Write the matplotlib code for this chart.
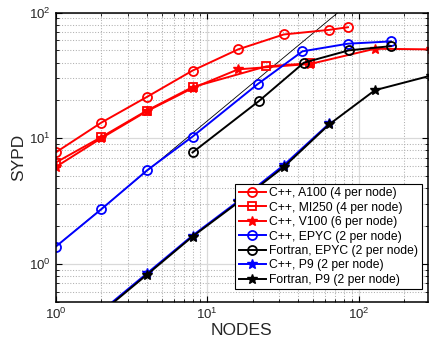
import matplotlib
matplotlib.use('Agg')
import matplotlib.pyplot as plt
from matplotlib.ticker import LogLocator, NullFormatter
import numpy as np

plt.rcParams['font.family'] = ['Liberation Sans', 'DejaVu Sans']

# Dados (nós x SYPD)
nos_a100 = [1, 2, 4, 8, 16, 32, 64, 85]
sypd_a100 = [7.7, 13.3, 21.3, 34.5, 50.9, 66.9, 72.8, 76.4]

nos_mi250 = [1, 2, 4, 8, 24.6, 48]
sypd_mi250 = [6.4, 10.2, 16.6, 25.5, 37.3, 39.5]

nos_v100 = [1, 2, 4, 8, 16, 48, 128, 300]
sypd_v100 = [5.9, 10.0, 16.4, 25.0, 35.3, 39.0, 51.5, 50.9]

nos_epyc_cpp = [1, 2, 4, 8, 21.5, 42.5, 85, 163]
sypd_epyc_cpp = [1.37, 2.72, 5.54, 10.3, 26.9, 49.1, 56.5, 58.9]

nos_epyc_f = [8, 22, 43.5, 86, 163]
sypd_epyc_f = [7.7, 19.8, 39.9, 50.0, 54.0]

nos_p9_cpp = [2, 4, 8, 16, 32, 64]
sypd_p9_cpp = [0.42, 0.84, 1.68, 3.15, 6.1, 13.1]

nos_p9_f = [2, 4, 8, 16, 32, 64, 128, 300]
sypd_p9_f = [0.41, 0.82, 1.65, 3.08, 5.9, 12.9, 24.1, 31.5]

# escalonamento ideal a partir de 1 nó (C++, EPYC)
nos_ideal = [1, 100]
sypd_ideal = [1.37, 137]

fig = plt.figure(figsize=(4.3, 3.48), dpi=100)
ax = fig.add_axes([0.1295, 0.133, 0.866, 0.831])

ax.plot(nos_ideal, sypd_ideal, color='k', lw=0.6)

estilo = dict(lw=1.4, ms=6.5, mew=1.3)
ax.plot(nos_a100, sypd_a100, 'o-', color='r', mfc='none', label='C++, A100 (4 per node)', **estilo)
ax.plot(nos_mi250, sypd_mi250, 's-', color='r', mfc='none', label='C++, MI250 (4 per node)',
        lw=1.4, ms=5.5, mew=1.3)
ax.plot(nos_v100, sypd_v100, '*-', color='r', label='C++, V100 (6 per node)', lw=1.4, ms=7, mew=1.0)
ax.plot(nos_epyc_cpp, sypd_epyc_cpp, 'o-', color='b', mfc='none', label='C++, EPYC (2 per node)', **estilo)
ax.plot(nos_epyc_f, sypd_epyc_f, 'o-', color='k', mfc='none', label='Fortran, EPYC (2 per node)', **estilo)
ax.plot(nos_p9_cpp, sypd_p9_cpp, '*-', color='b', label='C++, P9 (2 per node)', lw=1.4, ms=7, mew=1.0)
ax.plot(nos_p9_f, sypd_p9_f, '*-', color='k', label='Fortran, P9 (2 per node)', lw=1.4, ms=7, mew=1.0)

ax.set_xscale('log')
ax.set_yscale('log')
ax.set_xlim(1, 287)
ax.set_ylim(0.5, 100)

ax.xaxis.set_major_locator(LogLocator(base=10, numticks=10))
ax.yaxis.set_major_locator(LogLocator(base=10, numticks=10))
ax.xaxis.set_minor_locator(LogLocator(base=10, subs=np.arange(2, 10), numticks=20))
ax.yaxis.set_minor_locator(LogLocator(base=10, subs=np.arange(2, 10), numticks=20))
ax.xaxis.set_minor_formatter(NullFormatter())
ax.yaxis.set_minor_formatter(NullFormatter())

ax.grid(which='major', color='#d9d9d9', ls='-', lw=0.9)
ax.grid(which='minor', color='#b0b0b0', ls=':', lw=0.75)
ax.set_axisbelow(True)

ax.tick_params(which='both', direction='in', top=True, right=True, labelsize=9.5, colors='k')
ax.tick_params(which='major', length=4, width=0.8)
ax.tick_params(which='minor', length=2, width=0.6)
for lado in ax.spines.values():
    lado.set_linewidth(1.1)

ax.set_xlabel('NODES', fontsize=12.5, color='#262626', labelpad=1)
ax.set_ylabel('SYPD', fontsize=12.5, color='#262626', labelpad=2)
for t in ax.get_xticklabels() + ax.get_yticklabels():
    t.set_color('#262626')

leg = ax.legend(loc='lower right', fontsize=8.7, labelspacing=0.2, handlelength=2.2,
                handletextpad=0.3, borderpad=0.3, borderaxespad=0.3, fancybox=False,
                framealpha=1, edgecolor='k', bbox_to_anchor=(0.993, 0.03))
leg.get_frame().set_linewidth(0.8)

fig.savefig('out.png', dpi=100)
